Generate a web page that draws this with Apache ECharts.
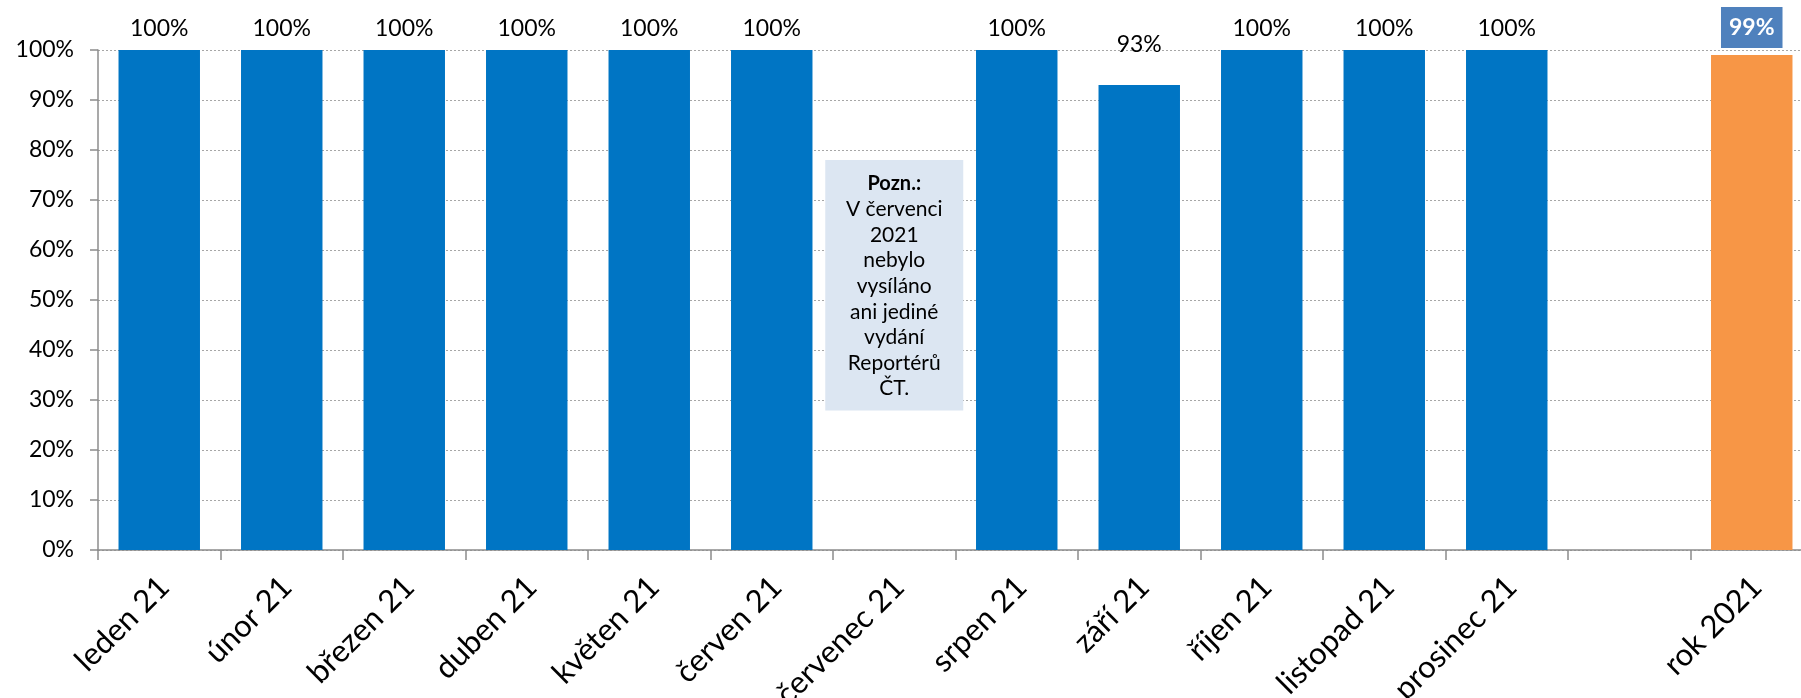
<!DOCTYPE html>
<html>
<head>
<meta charset="utf-8">
<script src="https://cdn.jsdelivr.net/npm/echarts@6/dist/echarts.min.js"></script>
<style>
html,body{margin:0;padding:0;background:#fff;}
#c{width:1801px;height:698px;}
</style>
</head>
<body>
<div id="c"></div>
<script>
const categories = ['leden 21','únor 21','březen 21','duben 21','květen 21','červen 21','červenec 21','srpen 21','září 21','říjen 21','listopad 21','prosinec 21','','rok 2021'];
const monthlyValues = [100,100,100,100,100,100,null,100,93,100,100,100,null,null];
const annualValues = [null,null,null,null,null,null,null,null,null,null,null,null,null,99];
const yMin = 0, yMax = 100, yStep = 10;
const noteTitle = 'Pozn.:';
const noteLines = ['V červenci','2021','nebylo','vysíláno','ani jediné','vydání','Reportérů','ČT.'];

const FONT = 'Lato, "Noto Sans", sans-serif';
const chart = echarts.init(document.getElementById('c'), null, {renderer:'canvas'});

const monthlyData = monthlyValues.map(v => {
  if (v == null) return '-';
  if (v < 100) return {value: v, label: {distance: 29}};
  return v;
});
const annualData = annualValues.map(v => v == null ? '-' : v);

chart.setOption({
  animation: false,
  grid: {left: 98, right: -12, top: 50, bottom: 148, containLabel: false, outerBoundsMode: 'none'},
  xAxis: {
    type: 'category',
    data: categories,
    axisLine: {lineStyle: {color: '#8c8c8c', width: 1.5}},
    axisTick: {show: true, length: 10, lineStyle: {color: '#8c8c8c', width: 1.5}},
    axisLabel: {
      interval: 0, rotate: 45, margin: 37, padding: [0, -7, 0, 0],
      fontSize: 31, fontFamily: FONT, color: '#000'
    },
    splitLine: {show: false}
  },
  yAxis: {
    type: 'value', min: yMin, max: yMax, interval: yStep,
    axisLine: {show: true, lineStyle: {color: '#8c8c8c', width: 1.5}},
    axisTick: {show: true, length: 8, lineStyle: {color: '#8c8c8c', width: 1.5}},
    axisLabel: {formatter: '{value}%', fontSize: 23, fontFamily: FONT, color: '#000', margin: 24},
    splitLine: {show: true, lineStyle: {color: '#a6a6a6', type: [2, 2], width: 1}}
  },
  series: [
    {
      name: 'měsíce', type: 'bar', stack: 's', barWidth: '66.5%',
      data: monthlyData,
      itemStyle: {color: '#0075C4'},
      label: {show: true, position: 'top', distance: 10, formatter: '{c}%',
              fontSize: 23, fontFamily: FONT, color: '#000'}
    },
    {
      name: 'rok', type: 'bar', stack: 's', barWidth: '66.5%',
      data: annualData,
      itemStyle: {color: '#F79646'},
      label: {show: true, position: 'top', distance: 7, formatter: '{c}%',
              fontSize: 23, fontWeight: 'bold', fontFamily: FONT, color: '#fff',
              backgroundColor: '#4F81BD', padding: [9, 8, 9, 8], lineHeight: 23}
    }
  ]
});

const pt = chart.convertToPixel({xAxisIndex: 0, yAxisIndex: 0}, [categories[6], 78]);
chart.setOption({
  graphic: [{
    type: 'text',
    x: pt[0], y: pt[1],
    z: 100,
    style: {
      text: '{b|' + noteTitle + '}\n' + noteLines.join('\n'),
      align: 'center', verticalAlign: 'top',
      width: 124,
      padding: [11, 7, 9, 7],
      backgroundColor: '#DCE6F2',
      fontSize: 21, fontFamily: FONT, fill: '#000', lineHeight: 25.6,
      rich: {b: {fontSize: 20, fontFamily: FONT, fontWeight: 'bold', fill: '#000', lineHeight: 25.6}}
    }
  }]
});
</script>
</body>
</html>
